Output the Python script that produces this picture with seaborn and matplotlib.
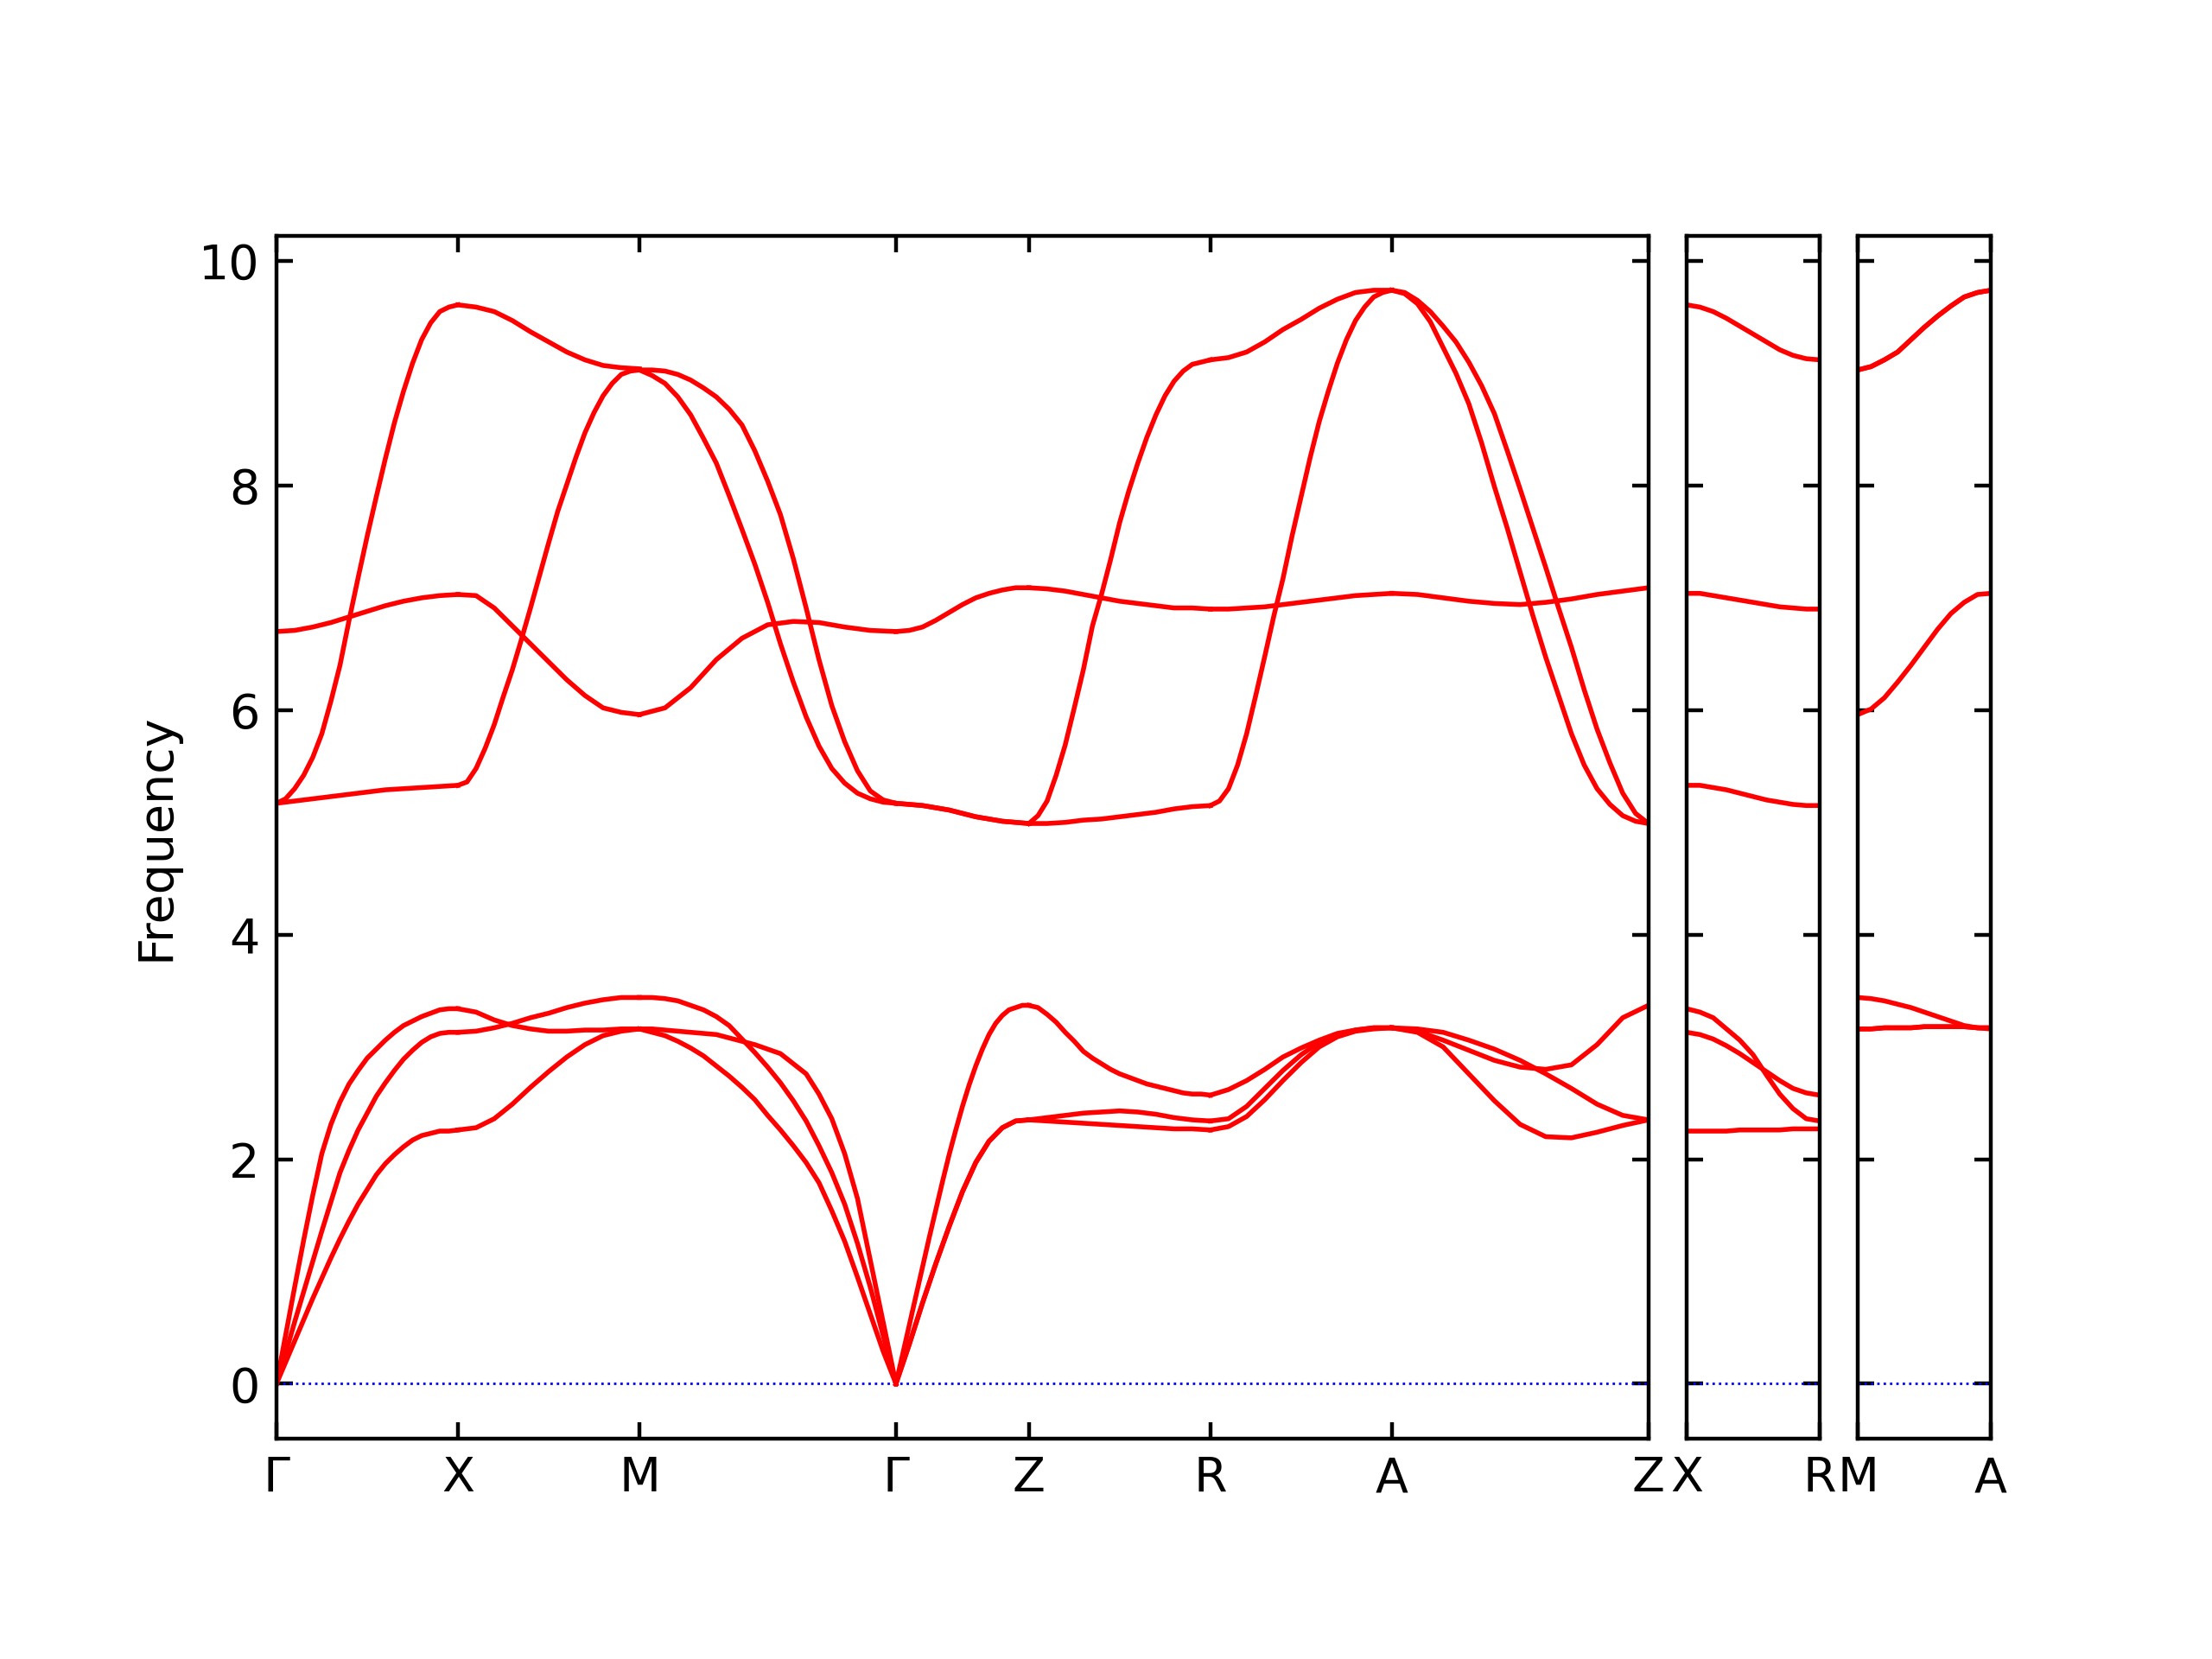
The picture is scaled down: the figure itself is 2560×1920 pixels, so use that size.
import numpy as np
import pandas as pd
import matplotlib
matplotlib.use('Agg')
import matplotlib.pyplot as plt
import seaborn as sns

# path lengths in units of a*, c* = 0.733 a*
SEG_LEN_A = 1.0
SEG_LEN_C = 0.733
SEG_LEN_D = 1.41421

# frequencies read along each segment, equally spaced from start to end
# (11 samples for gentle bands, 21 for strongly curved ones)
GX = [
    [0.00, 0.43, 0.86, 1.28, 1.68, 2.05, 2.31, 2.51, 2.67, 2.79, 2.90,
     2.98, 3.06, 3.13, 3.19, 3.23, 3.27, 3.30, 3.33, 3.34, 3.34],
    [0.00, 0.27, 0.55, 0.82, 1.09, 1.36, 1.62, 1.88, 2.08, 2.26, 2.41,
     2.56, 2.68, 2.79, 2.89, 2.97, 3.04, 3.09, 3.12, 3.13, 3.13],
    [0.00, 0.19, 0.38, 0.57, 0.76, 0.94, 1.12, 1.29, 1.45, 1.60, 1.73,
     1.86, 1.96, 2.04, 2.11, 2.17, 2.21, 2.23, 2.25, 2.25, 2.26],
    [5.17, 5.19, 5.21, 5.23, 5.25, 5.27, 5.29, 5.30, 5.31, 5.32, 5.33],
    [5.17, 5.21, 5.30, 5.42, 5.58, 5.79, 6.08, 6.40, 6.80, 7.18, 7.55,
     7.90, 8.24, 8.56, 8.84, 9.09, 9.30, 9.45, 9.55, 9.59, 9.61],
    [6.70, 6.71, 6.74, 6.78, 6.83, 6.88, 6.93, 6.97, 7.00, 7.02, 7.03],
]
XM = [
    [3.34, 3.31, 3.24, 3.19, 3.16, 3.14, 3.14, 3.15, 3.15, 3.16, 3.16],
    [3.13, 3.14, 3.17, 3.21, 3.26, 3.30, 3.35, 3.39, 3.42, 3.44, 3.44],
    [2.26, 2.28, 2.36, 2.49, 2.64, 2.78, 2.91, 3.02, 3.10, 3.14, 3.16],
    [5.33, 5.36, 5.48, 5.66, 5.87, 6.12, 6.36, 6.63, 6.91, 7.20, 7.49,
     7.77, 8.01, 8.25, 8.47, 8.65, 8.80, 8.91, 8.99, 9.02, 9.03],
    [9.61, 9.59, 9.55, 9.47, 9.37, 9.28, 9.19, 9.12, 9.07, 9.05, 9.04],
    [7.03, 7.02, 6.91, 6.75, 6.59, 6.43, 6.27, 6.13, 6.02, 5.98, 5.96],
]
MG = [
    [3.44, 3.44, 3.43, 3.41, 3.37, 3.33, 3.27, 3.19, 3.07, 2.95, 2.82,
     2.68, 2.52, 2.34, 2.12, 1.88, 1.60, 1.25, 0.86, 0.43, 0.00],
    [3.16, 3.16, 3.15, 3.14, 3.13, 3.12, 3.11, 3.08, 3.05, 3.02, 2.98,
     2.94, 2.85, 2.76, 2.58, 2.36, 2.05, 1.65, 1.10, 0.55, 0.00],
    [3.16, 3.13, 3.10, 3.05, 2.99, 2.92, 2.83, 2.74, 2.64, 2.53, 2.39,
     2.26, 2.12, 1.97, 1.79, 1.54, 1.27, 0.95, 0.62, 0.29, 0.00],
    [9.03, 9.03, 9.02, 8.99, 8.94, 8.87, 8.79, 8.68, 8.54, 8.31, 8.04,
     7.74, 7.35, 6.91, 6.45, 6.04, 5.72, 5.46, 5.28, 5.20, 5.17],
    [9.03, 8.98, 8.91, 8.79, 8.63, 8.42, 8.20, 7.91, 7.61, 7.30, 6.96,
     6.59, 6.25, 5.94, 5.68, 5.48, 5.35, 5.26, 5.21, 5.18, 5.17],
    [5.96, 6.02, 6.20, 6.45, 6.64, 6.76, 6.79, 6.78, 6.74, 6.71, 6.70],
]
GZ = [
    [0.00, 0.26, 0.52, 0.78, 1.04, 1.30, 1.55, 1.80, 2.04, 2.26, 2.47,
     2.66, 2.83, 2.98, 3.11, 3.21, 3.28, 3.33, 3.35, 3.37, 3.37],
    [0.00, 0.35, 0.72, 1.07, 1.40, 1.71, 1.97, 2.16, 2.28, 2.34, 2.35],
    [0.00, 0.35, 0.72, 1.07, 1.40, 1.71, 1.97, 2.16, 2.28, 2.34, 2.35],
    [5.17, 5.16, 5.15, 5.13, 5.11, 5.08, 5.05, 5.03, 5.01, 5.00, 4.99],
    [5.17, 5.16, 5.15, 5.13, 5.11, 5.08, 5.05, 5.03, 5.01, 5.00, 4.99],
    [6.70, 6.71, 6.74, 6.80, 6.87, 6.94, 7.00, 7.04, 7.07, 7.09, 7.09],
]
ZR = [
    [3.37, 3.35, 3.29, 3.22, 3.13, 3.05, 2.96, 2.90, 2.85, 2.80, 2.76,
     2.73, 2.70, 2.67, 2.65, 2.63, 2.61, 2.59, 2.58, 2.58, 2.57],
    [2.35, 2.37, 2.39, 2.41, 2.42, 2.43, 2.42, 2.40, 2.37, 2.35, 2.34],
    [2.35, 2.34, 2.33, 2.32, 2.31, 2.30, 2.29, 2.28, 2.27, 2.27, 2.26],
    [4.99, 5.06, 5.19, 5.42, 5.69, 6.02, 6.36, 6.75, 7.03, 7.34, 7.67,
     7.95, 8.20, 8.43, 8.63, 8.80, 8.93, 9.02, 9.08, 9.10, 9.12],
    [4.99, 4.99, 5.00, 5.02, 5.03, 5.05, 5.07, 5.09, 5.12, 5.14, 5.15],
    [7.09, 7.08, 7.06, 7.03, 7.00, 6.97, 6.95, 6.93, 6.91, 6.91, 6.90],
]
RA = [
    [2.57, 2.62, 2.70, 2.80, 2.91, 2.99, 3.06, 3.12, 3.15, 3.17, 3.17],
    [2.34, 2.36, 2.47, 2.63, 2.79, 2.93, 3.04, 3.11, 3.15, 3.17, 3.17],
    [2.26, 2.29, 2.38, 2.53, 2.70, 2.86, 3.00, 3.09, 3.14, 3.16, 3.17],
    [5.15, 5.19, 5.30, 5.51, 5.79, 6.13, 6.48, 6.84, 7.17, 7.55, 7.90,
     8.25, 8.57, 8.84, 9.09, 9.30, 9.47, 9.59, 9.68, 9.72, 9.74],
    [9.12, 9.14, 9.19, 9.28, 9.39, 9.48, 9.58, 9.66, 9.72, 9.74, 9.74],
    [6.90, 6.90, 6.91, 6.92, 6.94, 6.96, 6.98, 7.00, 7.02, 7.03, 7.04],
]
AZ = [
    [3.17, 3.13, 3.00, 2.76, 2.52, 2.31, 2.20, 2.19, 2.24, 2.30, 2.35],
    [3.17, 3.16, 3.13, 3.06, 2.98, 2.88, 2.76, 2.63, 2.49, 2.39, 2.35],
    [3.17, 3.14, 3.06, 2.97, 2.88, 2.82, 2.80, 2.84, 3.02, 3.26, 3.37],
    [9.74, 9.72, 9.65, 9.55, 9.42, 9.28, 9.10, 8.89, 8.64, 8.31, 7.97,
     7.62, 7.27, 6.91, 6.56, 6.18, 5.83, 5.53, 5.26, 5.08, 4.99],
    [9.74, 9.71, 9.62, 9.46, 9.23, 9.00, 8.73, 8.38, 7.99, 7.62, 7.23,
     6.84, 6.47, 6.13, 5.79, 5.51, 5.30, 5.16, 5.06, 5.01, 4.99],
    [7.04, 7.03, 7.00, 6.97, 6.95, 6.94, 6.96, 6.99, 7.03, 7.06, 7.09],
]
XR = [
    [3.34, 3.31, 3.26, 3.16, 3.06, 2.93, 2.75, 2.58, 2.45, 2.36, 2.34],
    [3.13, 3.11, 3.07, 3.01, 2.94, 2.86, 2.78, 2.70, 2.63, 2.59, 2.57],
    [2.25, 2.25, 2.25, 2.25, 2.26, 2.26, 2.26, 2.26, 2.27, 2.27, 2.27],
    [5.33, 5.33, 5.31, 5.29, 5.26, 5.23, 5.20, 5.18, 5.16, 5.15, 5.15],
    [7.04, 7.04, 7.02, 7.00, 6.98, 6.96, 6.94, 6.92, 6.91, 6.90, 6.90],
    [9.61, 9.59, 9.55, 9.49, 9.42, 9.35, 9.28, 9.21, 9.16, 9.13, 9.12],
]
MA = [
    [3.16, 3.16, 3.17, 3.17, 3.17, 3.18, 3.18, 3.18, 3.18, 3.17, 3.17],
    [3.16, 3.16, 3.17, 3.17, 3.17, 3.18, 3.18, 3.18, 3.18, 3.17, 3.17],
    [3.44, 3.43, 3.41, 3.38, 3.35, 3.31, 3.27, 3.23, 3.19, 3.17, 3.16],
    [5.96, 6.01, 6.11, 6.25, 6.40, 6.56, 6.72, 6.86, 6.96, 7.03, 7.04],
    [9.03, 9.06, 9.12, 9.19, 9.30, 9.41, 9.51, 9.60, 9.68, 9.72, 9.74],
    [9.03, 9.06, 9.12, 9.19, 9.30, 9.41, 9.51, 9.60, 9.68, 9.72, 9.74],
]

PANELS = [
    (['Γ', 'X', 'M', 'Γ', 'Z', 'R', 'A', 'Z'],
     [(GX, SEG_LEN_A), (XM, SEG_LEN_A), (MG, SEG_LEN_D), (GZ, SEG_LEN_C),
      (ZR, SEG_LEN_A), (RA, SEG_LEN_A), (AZ, SEG_LEN_D)]),
    (['X', 'R'], [(XR, SEG_LEN_C)]),
    (['M', 'A'], [(MA, SEG_LEN_C)]),
]
Y_LIMITS = (-0.487, 10.227)
Y_TICKS = [0, 2, 4, 6, 8, 10]


def build_frame(segments):
    rows = []
    start = 0.0
    for iseg, (bands, length) in enumerate(segments):
        for iband, freqs in enumerate(bands):
            xs = np.linspace(start, start + length, len(freqs))
            for x, f in zip(xs, freqs):
                rows.append({'line': f'{iseg}_{iband}', 'x': x, 'freq': f})
        start += length
    return pd.DataFrame(rows), start


def main():
    plt.rcParams['font.family'] = 'DejaVu Sans'
    plt.rcParams['font.size'] = 10
    widths = [sum(l for _, l in segs) for _, segs in PANELS]
    fig = plt.figure(figsize=(6.4, 4.8), dpi=400)
    gs = fig.add_gridspec(1, 3, width_ratios=widths, left=0.125, right=0.9,
                          bottom=0.133, top=0.858, wspace=0.07)
    for i, (labels, segs) in enumerate(PANELS):
        ax = fig.add_subplot(gs[0, i])
        df, total = build_frame(segs)
        ax.plot([0, total], [0, 0], linestyle=':', color='blue', linewidth=0.5)
        sns.lineplot(data=df, x='x', y='freq', units='line', estimator=None,
                     sort=False, color='red', linewidth=1.0, legend=False, ax=ax)
        ticks = [0.0]
        for _, l in segs:
            ticks.append(ticks[-1] + l)
        ax.set_xlim(0, total)
        ax.set_ylim(*Y_LIMITS)
        ax.set_xticks(ticks)
        ax.set_xticklabels(labels)
        ax.set_yticks(Y_TICKS)
        ax.tick_params(direction='in', top=True, right=True)
        ax.set_xlabel('')
        if i == 0:
            ax.set_ylabel('Frequency')
        else:
            ax.set_ylabel('')
            ax.set_yticklabels([])
    fig.savefig('out.png', dpi=400)


if __name__ == '__main__':
    main()
